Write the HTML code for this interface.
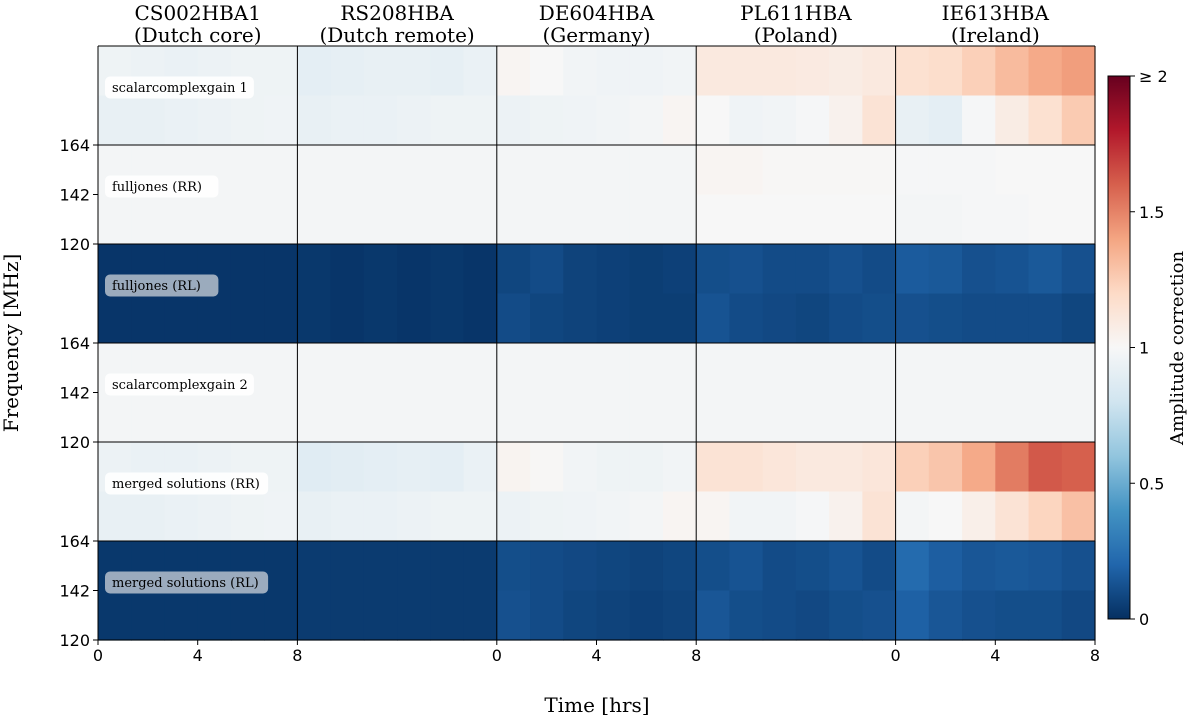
<!DOCTYPE html>
<html><head><meta charset="utf-8">
<style>
body{margin:0;background:#fff;}
svg{display:block;}
text{font-family:"DejaVu Serif","Liberation Serif",serif;}
.tick{font-family:"DejaVu Sans","Liberation Sans",sans-serif;font-size:16px;fill:#000;}
</style></head>
<body>
<svg id="chart" width="1200" height="719" xmlns="http://www.w3.org/2000/svg"></svg>
<script>
const stations = ["CS002HBA1","RS208HBA","DE604HBA","PL611HBA","IE613HBA"];
const regions = ["(Dutch core)","(Dutch remote)","(Germany)","(Poland)","(Ireland)"];
const rowLabels = ["scalarcomplexgain 1","fulljones (RR)","fulljones (RL)","scalarcomplexgain 2","merged solutions (RR)","merged solutions (RL)"];
const freqTicks = [164,142,120];
const timeTicks = [0,4,8];
const cbarTicks = [0,0.5,1,1.5,2];
const cbarTickLabels = ["0","0.5","1","1.5","\u2265 2"];
// amplitude values per panel: [upper half (6 time bins), lower half (6 time bins)]
const rowSCG1 = [
 [[0.95,0.94,0.93,0.94,0.95,0.95],[0.92,0.92,0.93,0.94,0.95,0.96]],
 [[0.90,0.91,0.92,0.92,0.91,0.93],[0.92,0.93,0.93,0.94,0.95,0.95]],
 [[1.02,1.00,0.97,0.96,0.96,0.97],[0.94,0.95,0.96,0.97,0.98,1.02]],
 [[1.10,1.10,1.10,1.09,1.08,1.10],[1.00,0.96,0.97,0.99,1.04,1.14]],
 [[1.16,1.18,1.24,1.32,1.38,1.42],[0.92,0.90,0.99,1.08,1.16,1.26]]
];
const rowFJRR = [
 [[0.98,0.98,0.98,0.98,0.98,0.98],[0.98,0.98,0.98,0.98,0.98,0.98]],
 [[0.98,0.98,0.98,0.98,0.98,0.98],[0.98,0.98,0.98,0.98,0.98,0.98]],
 [[0.98,0.98,0.98,0.98,0.98,0.98],[0.98,0.98,0.98,0.98,0.98,0.98]],
 [[1.02,1.02,1.01,1.01,1.01,1.01],[1.00,1.00,1.00,1.00,1.00,1.00]],
 [[0.99,0.99,0.99,1.00,1.00,1.00],[0.98,0.98,0.99,0.99,1.00,1.00]]
];
const rowFJRL = [
 [[0.02,0.02,0.02,0.02,0.02,0.02],[0.02,0.02,0.02,0.02,0.02,0.02]],
 [[0.03,0.02,0.03,0.02,0.03,0.02],[0.03,0.02,0.03,0.02,0.03,0.02]],
 [[0.08,0.10,0.07,0.06,0.05,0.06],[0.10,0.08,0.07,0.06,0.05,0.05]],
 [[0.11,0.12,0.10,0.10,0.12,0.10],[0.13,0.10,0.09,0.08,0.10,0.11]],
 [[0.16,0.15,0.12,0.13,0.15,0.12],[0.12,0.11,0.10,0.10,0.10,0.08]]
];
const rowSCG2 = [
 [[0.98,0.98,0.98,0.98,0.98,0.98],[0.98,0.98,0.98,0.98,0.98,0.98]],
 [[0.98,0.98,0.98,0.98,0.98,0.98],[0.98,0.98,0.98,0.98,0.98,0.98]],
 [[0.98,0.98,0.98,0.98,0.98,0.98],[0.98,0.98,0.98,0.98,0.98,0.98]],
 [[0.98,0.98,0.98,0.98,0.98,0.98],[0.98,0.98,0.98,0.98,0.98,0.98]],
 [[0.98,0.98,0.98,0.98,0.98,0.98],[0.98,0.98,0.98,0.98,0.98,0.98]]
];
const rowMRR = [
 [[0.94,0.93,0.93,0.94,0.95,0.95],[0.92,0.92,0.93,0.94,0.95,0.96]],
 [[0.88,0.89,0.90,0.91,0.90,0.93],[0.92,0.93,0.93,0.94,0.95,0.95]],
 [[1.03,1.01,0.97,0.95,0.95,0.97],[0.94,0.95,0.96,0.97,0.98,1.02]],
 [[1.14,1.14,1.12,1.10,1.10,1.12],[1.02,0.97,0.97,0.99,1.04,1.14]],
 [[1.24,1.28,1.38,1.52,1.62,1.60],[0.98,1.00,1.06,1.14,1.22,1.30]]
];
const rowMRL = [
 [[0.03,0.03,0.03,0.03,0.03,0.03],[0.03,0.03,0.03,0.03,0.03,0.03]],
 [[0.04,0.04,0.04,0.04,0.04,0.04],[0.04,0.04,0.04,0.04,0.04,0.04]],
 [[0.11,0.10,0.09,0.08,0.07,0.08],[0.12,0.10,0.08,0.07,0.06,0.07]],
 [[0.11,0.13,0.10,0.11,0.13,0.10],[0.14,0.11,0.10,0.09,0.11,0.12]],
 [[0.22,0.17,0.14,0.15,0.14,0.12],[0.18,0.14,0.12,0.11,0.11,0.09]]
];
const rows = [rowSCG1,rowFJRR,rowFJRL,rowSCG2,rowMRR,rowMRL];

const NS="http://www.w3.org/2000/svg";
const svg=document.getElementById('chart');
function el(tag,attrs,parent){const e=document.createElementNS(NS,tag);for(const k in attrs)e.setAttribute(k,attrs[k]);(parent||svg).appendChild(e);return e;}
const stops=["#053061","#2166ac","#4393c3","#92c5de","#d1e5f0","#f7f7f7","#fddbc7","#f4a582","#d6604d","#b2182b","#67001f"];
function hex(h){return [1,3,5].map(i=>parseInt(h.substr(i,2),16));}
function cmap(v){let t=Math.max(0,Math.min(1,v/2))*(stops.length-1);let i=Math.min(stops.length-2,Math.floor(t));let f=t-i;const a=hex(stops[i]),b=hex(stops[i+1]);return `rgb(${a.map((x,j)=>Math.round(x+(b[j]-x)*f)).join(',')})`;}
const X0=98,X1=1095,Y0=46,Y1=640;
const colW=(X1-X0)/5,rowH=(Y1-Y0)/6;
const xCol=c=>X0+c*colW, yRow=r=>Y0+r*rowH;

rows.forEach((row,r)=>{
  row.forEach((panel,c)=>{
    const g=el('g',{});
    
    
    panel.forEach((half,hi)=>{
      const bw=colW/half.length,bh=rowH/panel.length;
      half.forEach((v,ti)=>{
        const rc=el('rect',{x:xCol(c)+ti*bw,y:yRow(r)+hi*bh,width:bw+0.6,height:bh+0.6,fill:cmap(v)},g);
        
        
      });
    });
  });
  const dark=row[0][0][0]<0.5;
  const lab=rowLabels[r];
  const w=lab.length*7.1+14;
  const cyl=yRow(r)+rowH/2-8;
  const bx=el('rect',{x:105,y:cyl-11,width:w,height:22,rx:5,fill:dark?'#b5bfcc':'#ffffff','fill-opacity':dark?0.85:0.9});
  
  
  const t=el('text',{x:112,y:cyl+4.5,'font-size':13,fill:'#000'});
  t.textContent=lab;
  
  
});
for(let c=0;c<=5;c++){const l=el('line',{x1:xCol(c),x2:xCol(c),y1:Y0,y2:Y1,stroke:'#000','stroke-width':1});}
for(let r=0;r<=6;r++){const l=el('line',{x1:X0,x2:X1,y1:yRow(r),y2:yRow(r),stroke:'#000','stroke-width':1});}
stations.forEach((s,c)=>{
  const cx=xCol(c)+colW/2;
  const t=el('text',{x:cx,y:20,'text-anchor':'middle','font-size':20});t.textContent=s;
  
  const t2=el('text',{x:cx,y:42,'text-anchor':'middle','font-size':20});t2.textContent=regions[c];
  
});
const fy=(r,f)=>yRow(r)+(164-f)/(164-120)*rowH;
[1,3,5].forEach(r=>{
  freqTicks.forEach(f=>{
    const y=fy(r,f);
    el('line',{x1:X0-5,x2:X0,y1:y,y2:y,stroke:'#000'});
    const t=el('text',{x:X0-8,y:y+6,'text-anchor':'end',class:'tick'});t.textContent=f;
    
  });
});
const tx=(c,h)=>xCol(c)+h/8*colW;
[0,2,4].forEach(c=>{
  timeTicks.forEach(h=>{
    const x=tx(c,h);
    el('line',{x1:x,x2:x,y1:Y1,y2:Y1+5,stroke:'#000'});
    const t=el('text',{x:x,y:Y1+21,'text-anchor':'middle',class:'tick'});t.textContent=h;
    
  });
});
const yt=el('text',{x:0,y:0,'font-size':20,'text-anchor':'middle',transform:'translate(18,343) rotate(-90)'});yt.textContent='Frequency [MHz]';

const xt=el('text',{x:597,y:712,'font-size':20,'text-anchor':'middle'});xt.textContent='Time [hrs]';

const CX=1108,CW=22,CY0=76,CY1=619;
const defs=el('defs',{});
const lg=el('linearGradient',{id:'cg',x1:0,y1:1,x2:0,y2:0},defs);
stops.forEach((s,i)=>el('stop',{offset:i/(stops.length-1),'stop-color':s},lg));
const cb=el('rect',{x:CX,y:CY0,width:CW,height:CY1-CY0,fill:'url(#cg)',stroke:'#000','stroke-width':1});

const cy=v=>CY1-v/2*(CY1-CY0);
cbarTicks.forEach((v,i)=>{
  const y=cy(v);
  el('line',{x1:CX+CW,x2:CX+CW+5,y1:y,y2:y,stroke:'#000'});
  const t=el('text',{x:CX+CW+9,y:y+6,class:'tick'});t.textContent=cbarTickLabels[i];
  
});
const ct=el('text',{x:0,y:0,'font-size':18,'text-anchor':'middle',transform:'translate(1183,348) rotate(-90)'});ct.textContent='Amplitude correction';

</script>
</body></html>
